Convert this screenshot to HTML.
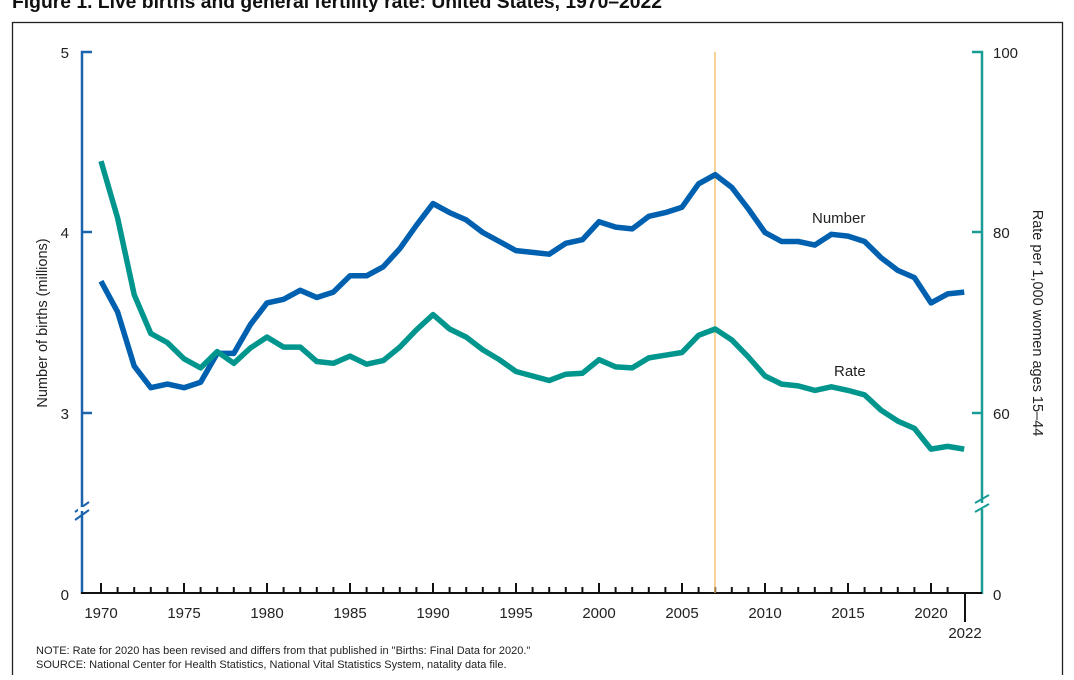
<!DOCTYPE html>
<html><head><meta charset="utf-8"><style>
body{margin:0;background:#fff;width:1074px;height:675px;overflow:hidden;font-family:"Liberation Sans",sans-serif}
svg text{font-family:"Liberation Sans",sans-serif}
</style></head><body>
<svg id="s" width="1074" height="675" viewBox="0 0 1074 675">
<text x="12" y="8" font-size="19" font-weight="bold" fill="#111" style="font-family:'Liberation Sans Narrow','Liberation Sans',sans-serif" textLength="650" lengthAdjust="spacingAndGlyphs">Figure 1. Live births and general fertility rate: United States, 1970–2022</text>
<rect x="12.5" y="22.5" width="1050" height="670" fill="none" stroke="#222" stroke-width="1.3"/>
<!-- left axis -->
<polyline points="92,52 82,52 82,594" fill="none" stroke="#1b63ad" stroke-width="2.5"/>
<line x1="75" y1="512" x2="89" y2="502" stroke="#1b63ad" stroke-width="2"/>
<line x1="75" y1="520" x2="89" y2="510" stroke="#1b63ad" stroke-width="2"/>
<rect x="78" y="507" width="8" height="4" fill="#fff"/>
<line x1="82" y1="232" x2="92" y2="232" stroke="#1b63ad" stroke-width="2.5"/>
<line x1="82" y1="413" x2="92" y2="413" stroke="#1b63ad" stroke-width="2.5"/>
<!-- right axis -->
<polyline points="972,52 982,52 982,594" fill="none" stroke="#1a9c96" stroke-width="2.5"/>
<rect x="978" y="503" width="8" height="6" fill="#fff"/>
<line x1="975" y1="503" x2="989" y2="495" stroke="#1a9c96" stroke-width="2"/>
<line x1="975" y1="512" x2="989" y2="504" stroke="#1a9c96" stroke-width="2"/>
<line x1="972" y1="232" x2="982" y2="232" stroke="#1a9c96" stroke-width="2.5"/>
<line x1="972" y1="413" x2="982" y2="413" stroke="#1a9c96" stroke-width="2.5"/>
<g font-size="15" fill="#222">
<text x="69" y="58" text-anchor="end">5</text>
<text x="69" y="238" text-anchor="end">4</text>
<text x="69" y="419" text-anchor="end">3</text>
<text x="69" y="600" text-anchor="end">0</text>
<text x="993" y="58">100</text>
<text x="993" y="238">80</text>
<text x="993" y="419">60</text>
<text x="993" y="600">0</text>
</g>
<text transform="translate(47,323) rotate(-90)" font-size="14.5" fill="#222" text-anchor="middle">Number of births (millions)</text>
<text transform="translate(1033,323) rotate(90)" font-size="14.5" fill="#222" text-anchor="middle">Rate per 1,000 women ages 15–44</text>
<line x1="81" y1="593" x2="982" y2="593" stroke="#111" stroke-width="2"/>
<g id="ticks" stroke="#111" stroke-width="2"></g>
<g id="xl" font-size="15" fill="#222" text-anchor="middle"></g>
<line x1="965" y1="593" x2="965" y2="622" stroke="#111" stroke-width="2"/>
<text x="965" y="638" font-size="15" fill="#222" text-anchor="middle">2022</text>
<line x1="715" y1="52" x2="715" y2="593" stroke="#f0b860" stroke-width="1.3"/>
<polyline id="num" fill="none" stroke="#0060b0" stroke-width="5.5" stroke-linejoin="round"/>
<polyline id="rate" fill="none" stroke="#00968d" stroke-width="5.5" stroke-linejoin="round"/>
<text x="812" y="223" font-size="15" fill="#222">Number</text>
<text x="834" y="376" font-size="15" fill="#222">Rate</text>
<text x="36" y="654" font-size="11" fill="#222">NOTE: Rate for 2020 has been revised and differs from that published in "Births: Final Data for 2020."</text>
<text x="36" y="668" font-size="11" fill="#222">SOURCE: National Center for Health Statistics, National Vital Statistics System, natality data file.</text>
</svg>
<script>
var N=[3.73,3.56,3.26,3.14,3.16,3.14,3.17,3.33,3.33,3.49,3.61,3.63,3.68,3.64,3.67,3.76,3.76,3.81,3.91,4.04,4.16,4.11,4.07,4.00,3.95,3.90,3.89,3.88,3.94,3.96,4.06,4.03,4.02,4.09,4.11,4.14,4.27,4.32,4.25,4.13,4.00,3.95,3.95,3.93,3.99,3.98,3.95,3.86,3.79,3.75,3.61,3.66,3.67];
var R=[87.9,81.6,73.1,68.8,67.8,66.0,65.0,66.8,65.5,67.2,68.4,67.3,67.3,65.7,65.5,66.3,65.4,65.8,67.3,69.2,70.9,69.3,68.4,67.0,65.9,64.6,64.1,63.6,64.3,64.4,65.9,65.1,65.0,66.1,66.4,66.7,68.6,69.3,68.1,66.2,64.1,63.2,63.0,62.5,62.9,62.5,62.0,60.3,59.1,58.3,56.0,56.3,56.0];
function X(i){return 101+i*16.6}
var a=[],b=[];
for(var i=0;i<N.length;i++){a.push(X(i).toFixed(1)+","+(413-(N[i]-3)*180.5).toFixed(1));b.push(X(i).toFixed(1)+","+(413-(R[i]-60)*9.03).toFixed(1));}
document.getElementById('num').setAttribute('points',a.join(' '));
document.getElementById('rate').setAttribute('points',b.join(' '));
var t='',l='';
for(var i=0;i<52;i++){var x=X(i);var h=(i%5==0)?10:6;t+='<line x1="'+x+'" y1="593" x2="'+x+'" y2="'+(593-h)+'"/>';if(i%5==0)l+='<text x="'+x+'" y="618">'+(1970+i)+'</text>';}
document.getElementById('ticks').innerHTML=t;
document.getElementById('xl').innerHTML=l;
</script>
</body></html>
